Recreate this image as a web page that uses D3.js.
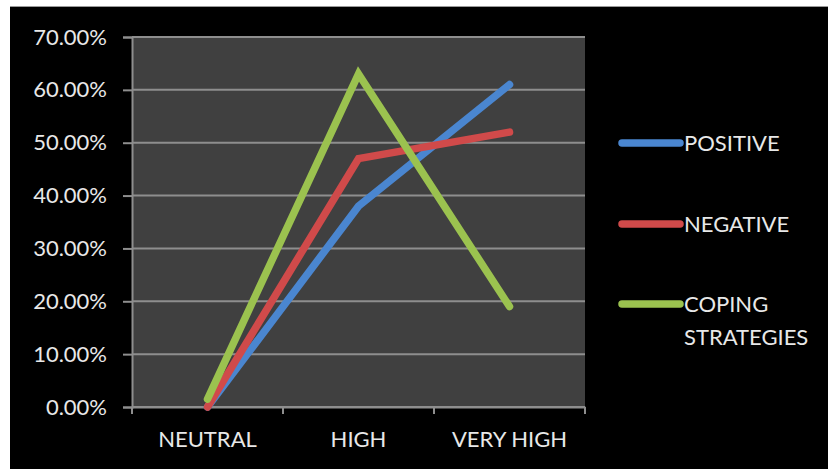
<!DOCTYPE html>
<html>
<head>
<meta charset="utf-8">
<script src="https://cdn.jsdelivr.net/npm/d3@7"></script>
<style>
  html, body { margin: 0; padding: 0; background: #ffffff; }
  svg { display: block; }
  text { font-family: Lato, "Open Sans", sans-serif; fill: #e8e8e8; }
</style>
</head>
<body>
<svg id="chart" width="828" height="469"></svg>
<script>
// Categories along the x axis
const categories = ["NEUTRAL", "HIGH", "VERY HIGH"];

// Series names and values (fractions)
const seriesNames = ["POSITIVE", "NEGATIVE", "COPING STRATEGIES"];
const positiveValues = [0.00, 0.38, 0.61];
const negativeValues = [0.00, 0.47, 0.52];
const copingValues = [0.015, 0.63, 0.19];

// Y axis tick values
const yTicks = [0, 0.1, 0.2, 0.3, 0.4, 0.5, 0.6, 0.7];

const colors = ["#4a86d0", "#d04a4a", "#9bc24f"];

const series = [
  { name: seriesNames[0], values: positiveValues, color: colors[0] },
  { name: seriesNames[1], values: negativeValues, color: colors[1] },
  { name: seriesNames[2], values: copingValues, color: colors[2] }
];

const FONT = "Lato, 'Open Sans', sans-serif";
const svg = d3.select("#chart");

// Black chart canvas with a thin white margin at top and left
svg.append("rect").attr("x", 10).attr("y", 6).attr("width", 818).attr("height", 463).attr("fill", "#000");
svg.append("line").attr("x1", 10).attr("x2", 828).attr("y1", 6.5).attr("y2", 6.5)
  .attr("stroke", "#9a9a9a").attr("stroke-width", 1);

const plot = { left: 132, right: 585, top: 37, bottom: 407 };

const x = d3.scaleBand().domain(categories).range([plot.left, plot.right]).padding(0);
const y = d3.scaleLinear().domain([0, 0.7]).range([plot.bottom, plot.top]);

// Plot area background
svg.append("rect")
  .attr("x", plot.left).attr("y", plot.top)
  .attr("width", plot.right - plot.left).attr("height", plot.bottom - plot.top)
  .attr("fill", "#404040");

// Horizontal gridlines
svg.append("g").selectAll("line").data(yTicks).join("line")
  .attr("x1", plot.left).attr("x2", plot.right)
  .attr("y1", d => y(d)).attr("y2", d => y(d))
  .attr("stroke", "#8e8e8e").attr("stroke-width", 2);

// Y axis
const yAxis = svg.append("g")
  .attr("transform", `translate(${plot.left},0)`)
  .call(d3.axisLeft(y).tickValues(yTicks).tickFormat(d => (d * 100).toFixed(2) + "%").tickSize(9).tickPadding(16));
yAxis.select(".domain").attr("stroke", "#8e8e8e").attr("stroke-width", 2);
yAxis.selectAll(".tick line").attr("stroke", "#8e8e8e").attr("stroke-width", 2);
yAxis.selectAll(".tick text").attr("font-size", 22).attr("fill", "#e8e8e8")
  .style("font-family", FONT);

// X axis (ticks at category boundaries)
const xAxis = svg.append("g")
  .attr("transform", `translate(0,${plot.bottom})`)
  .call(d3.axisBottom(x).tickSize(0).tickPadding(24));
xAxis.select(".domain").attr("stroke", "#8e8e8e").attr("stroke-width", 2);
xAxis.selectAll(".tick text").attr("font-size", 22).attr("fill", "#e8e8e8")
  .style("font-family", FONT);
const boundaries = categories.map(c => x(c)).concat([x(categories[categories.length - 1]) + x.bandwidth()]);
svg.append("g").selectAll("line").data(boundaries).join("line")
  .attr("x1", d => d).attr("x2", d => d)
  .attr("y1", plot.bottom).attr("y2", plot.bottom + 7)
  .attr("stroke", "#8e8e8e").attr("stroke-width", 2);

// Series lines
const line = d3.line()
  .x((d, i) => x(categories[i]) + x.bandwidth() / 2)
  .y(d => y(d));

svg.append("g").selectAll("path").data(series).join("path")
  .attr("d", d => line(d.values))
  .attr("fill", "none")
  .attr("stroke", d => d.color)
  .attr("stroke-width", 7.5)
  .attr("stroke-linecap", "round")
  .attr("stroke-linejoin", "miter");

// Legend
const legendY = [143, 224, 304];
const legend = svg.append("g").selectAll("g").data(series).join("g")
  .attr("transform", (d, i) => `translate(622,${legendY[i]})`);
legend.append("line")
  .attr("x1", 0).attr("x2", 58).attr("y1", 0).attr("y2", 0)
  .attr("stroke", d => d.color).attr("stroke-width", 7.5).attr("stroke-linecap", "round");
legend.append("text")
  .attr("x", 62).attr("y", 0)
  .attr("font-size", 22)
  .style("font-family", FONT)
  .each(function (d) {
    const words = d.name === "COPING STRATEGIES" ? ["COPING", "STRATEGIES"] : [d.name];
    const t = d3.select(this);
    words.forEach((w, k) => {
      t.append("tspan").attr("x", 62).attr("y", k * 33).attr("dy", "0.35em").text(w);
    });
  });
</script>
</body>
</html>
